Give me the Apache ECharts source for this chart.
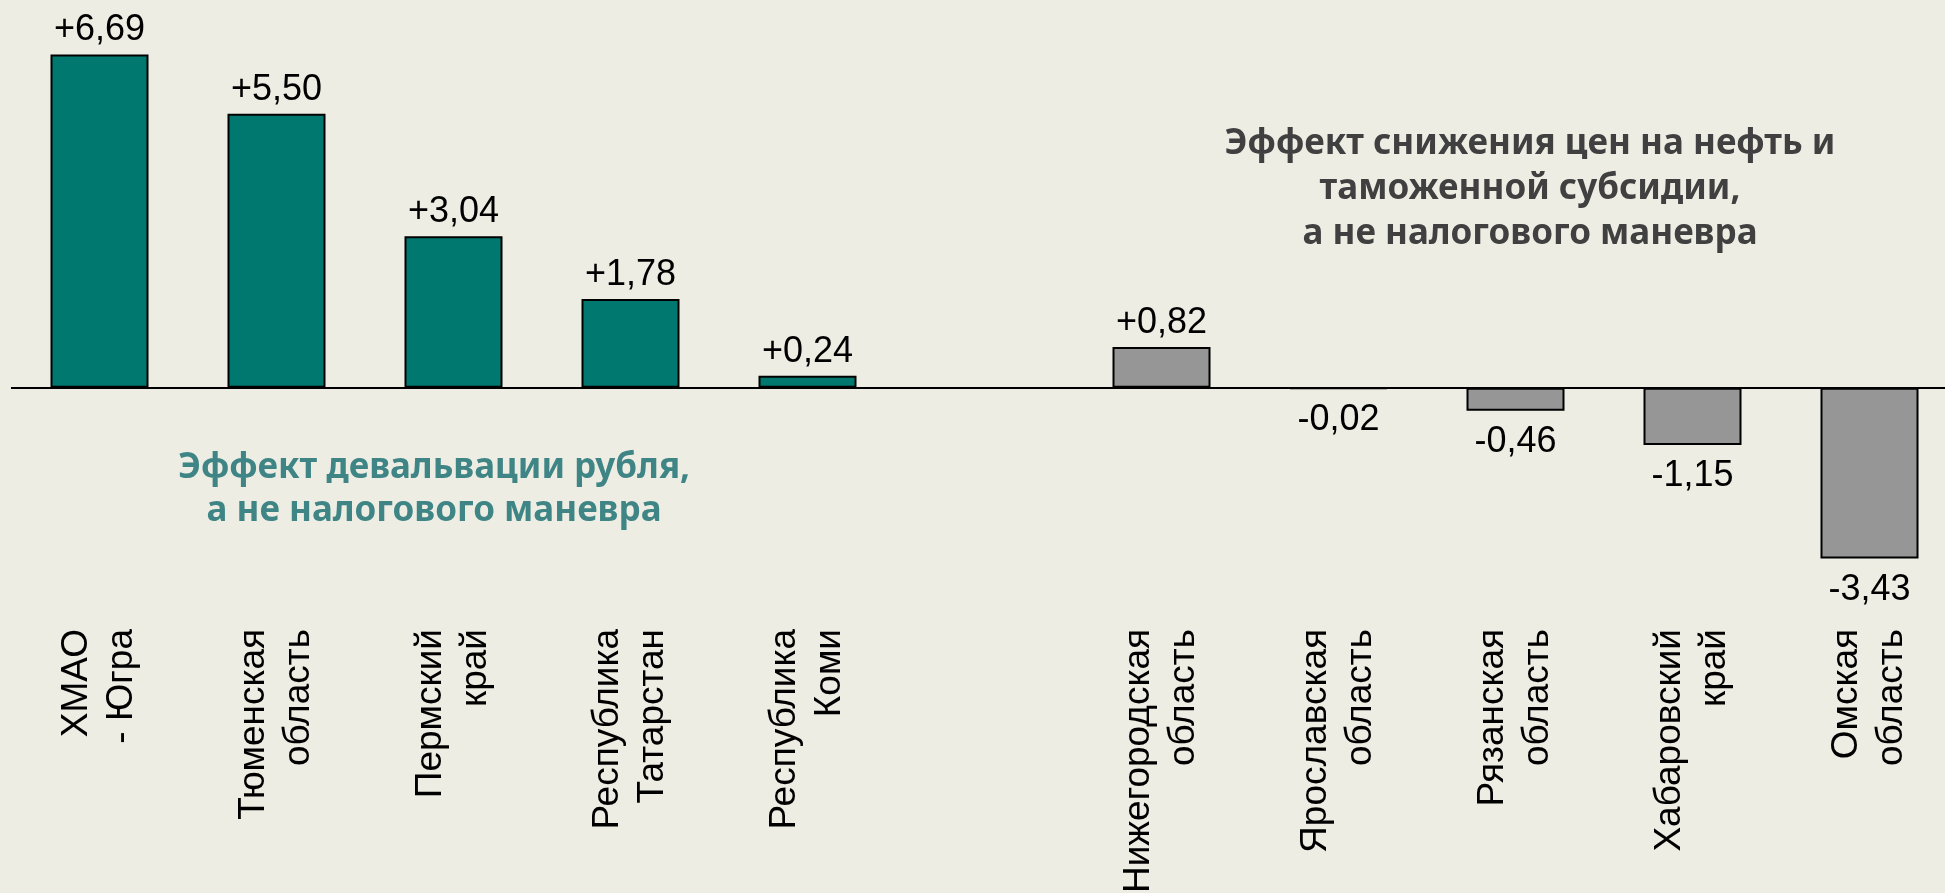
<!DOCTYPE html>
<html>
<head>
<meta charset="utf-8">
<script src="https://cdn.jsdelivr.net/npm/echarts@6/dist/echarts.min.js"></script>
<style>
    html, body { margin: 0; padding: 0; background: #EDEDE4; }
    #chart { width: 1945px; height: 893px; }
</style>
</head>
<body>
<div id="chart"></div>
<script>
// регионы (пустая категория — разрыв между группами)
const regions = ['ХМАО\n- Югра', 'Тюменская\nобласть', 'Пермский\nкрай', 'Республика\nТатарстан', 'Республика\nКоми',
    '', 'Нижегородская\nобласть', 'Ярославская\nобласть', 'Рязанская\nобласть', 'Хабаровский\nкрай', 'Омская\nобласть'];
const devaluationEffect = [6.69, 5.50, 3.04, 1.78, 0.24, null, null, null, null, null, null];
const oilEffect = [null, null, null, null, null, null, 0.82, -0.02, -0.46, -1.15, -3.43];

const TEAL = '#007870', GRAY = '#969696';
const fmt = v => (v > 0 ? '+' : '') + v.toFixed(2).replace('.', ',');

// один ряд: цвет по группе, подпись сверху/снизу по знаку
const barData = regions.map((r, i) => {
    const v = devaluationEffect[i] != null ? devaluationEffect[i] : oilEffect[i];
    if (v == null) return null;
    return {
        value: v,
        itemStyle: { color: devaluationEffect[i] != null ? TEAL : GRAY },
        label: v >= 0 ? { position: 'top', distance: 6 } : { position: 'bottom', distance: 13 }
    };
});

const chart = echarts.init(document.getElementById('chart'));

chart.setOption({
    backgroundColor: '#EDEDE4',
    animation: false,
    grid: { left: 11, top: 39, width: 1947, height: 548, outerBoundsMode: 'none', containLabel: false },
    xAxis: {
        type: 'category',
        data: regions,
        axisLine: { show: false, onZero: false },
        axisTick: { show: false },
        axisLabel: {
            interval: 0, rotate: 90, margin: 42,
            fontFamily: 'Liberation Sans, Arial', fontSize: 37, lineHeight: 45, color: '#000'
        }
    },
    yAxis: { type: 'value', min: -4, max: 7, show: false, splitLine: { show: false } },
    series: [{
        type: 'bar', barWidth: 98,
        data: barData,
        itemStyle: { borderColor: '#000', borderWidth: 2 },
        label: {
            show: true,
            fontFamily: 'Liberation Sans, Arial',
            fontSize: 36,
            color: '#000',
            formatter: p => fmt(p.value)
        },
        markLine: {
            silent: true, symbol: 'none', label: { show: false },
            lineStyle: { color: '#000', width: 2, type: 'solid' },
            data: [{ yAxis: 0 }]
        }
    }],
    graphic: [
        {
            type: 'text', x: 434, y: 447,
            style: {
                text: 'Эффект девальвации рубля,\nа не налогового маневра',
                textAlign: 'center',
                fontFamily: 'Noto Sans', fontWeight: 'bold', fontSize: 35, lineHeight: 43,
                fill: '#3F8585'
            }
        },
        {
            type: 'text', x: 1530, y: 122,
            style: {
                text: 'Эффект снижения цен на нефть и\nтаможенной субсидии,\nа не налогового маневра',
                textAlign: 'center',
                fontFamily: 'Noto Sans', fontWeight: 'bold', fontSize: 35, lineHeight: 45,
                fill: '#404040'
            }
        }
    ]
});
</script>
</body>
</html>
